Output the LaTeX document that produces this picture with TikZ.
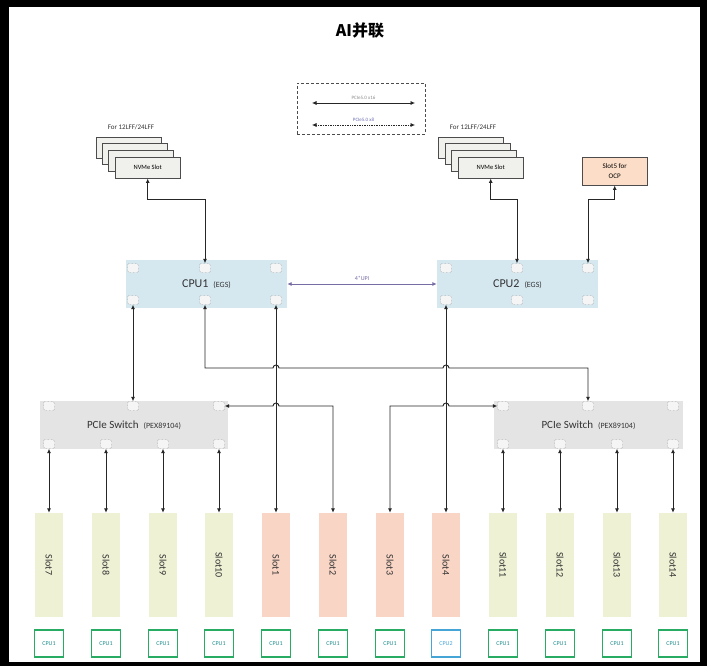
\documentclass[tikz,border=0pt]{standalone}
\usepackage{fontspec}
\usepackage{graphicx}
\setmainfont{Carlito}
\newfontfamily\cjkfont{Noto Sans CJK SC}
\usetikzlibrary{arrows.meta,positioning}
\definecolor{cpublue}{RGB}{213,232,240}
\definecolor{swgray}{RGB}{228,228,228}
\definecolor{slotgreen}{RGB}{238,241,212}
\definecolor{slotpeach}{RGB}{249,213,197}
\definecolor{ocppeach}{RGB}{251,221,200}
\definecolor{cardgray}{RGB}{240,240,236}
\definecolor{tagGreen}{RGB}{40,172,100}
\definecolor{tagBlue}{RGB}{70,165,215}
\definecolor{tagText}{RGB}{30,140,140}
\definecolor{upipurple}{RGB}{120,108,165}
\definecolor{legendBlue}{RGB}{110,110,180}

\begin{document}
\begin{tikzpicture}[x=1pt,y=-1pt,font=\fontsize{7}{8}\selectfont,
  port/.style={draw=black!60,densely dotted,rounded corners=1.5pt,fill=black!4,minimum width=11pt,minimum height=9pt,inner sep=0pt},
  card/.style={draw=black!70,fill=cardgray,minimum width=65pt,minimum height=21pt,anchor=north west,inner sep=0pt,font=\fontsize{6.5}{7}\selectfont},
  chip/.style={minimum height=48pt,inner sep=0pt,text=black!80},
  slotbox/.style={minimum width=28pt,minimum height=104pt,inner sep=0pt,font=\fontsize{10}{11}\selectfont,text=black!80},
  tag/.style={draw=tagGreen,line width=1.3pt,minimum width=29pt,minimum height=27pt,inner sep=0pt,font=\fontsize{6}{7}\selectfont,text=tagText},
  link/.style={{Latex[length=4.5pt,width=4pt]}-{Latex[length=4.5pt,width=4pt]},black!85,line width=0.9pt}]
\fill[black] (0,0) rectangle (707,666);
\fill[white] (9,7) rectangle (700,662);
\useasboundingbox (0,0) rectangle (707,666);

\node[font=\cjkfont\bfseries\fontsize{16}{18}\selectfont] (title) at (360,30) {AI并联};

% legend
\node[draw=black!70,densely dashed,minimum width=128pt,minimum height=51pt] (legend) at (361,108.5) {};
\coordinate (la1) at (312,103);
\coordinate (la2) at (415,103);
\coordinate (lb1) at (312,125);
\coordinate (lb2) at (415,125);
\draw[link,line width=0.7pt] (la1) -- node[above=0pt,font=\fontsize{5}{6}\selectfont,text=black!45]{PCIe5.0 x16} (la2);
\draw[link,line width=0.7pt,densely dotted] (lb1) -- node[above=0pt,font=\fontsize{5}{6}\selectfont,text=legendBlue]{PCIe5.0 x8} (lb2);

% storage
\node[font=\fontsize{7}{8}\selectfont,text=black!80] (forL) at (131,127) {For 12LFF/24LFF};
\node[card] (nvL1) at (96,137) {};
\node[card] (nvL2) at (102,143) {};
\node[card] (nvL3) at (108,150) {};
\node[card] (nvL4) at (115,157) {NVMe Slot};
\node[font=\fontsize{7}{8}\selectfont,text=black!80] (forR) at (473,127) {For 12LFF/24LFF};
\node[card] (nvR1) at (438,137) {};
\node[card] (nvR2) at (445,143) {};
\node[card] (nvR3) at (451,150) {};
\node[card] (nvR4) at (458,157) {NVMe Slot};
\node[card,fill=ocppeach,minimum height=28pt,align=center,font=\fontsize{7}{10}\selectfont] (ocp) at (582,157) {Slot5 for\\OCP};

% cpus and switches
\node[chip,fill=cpublue,minimum width=161pt,font=\fontsize{12}{14}\selectfont] (cpu1) at (206.5,284) {CPU1\hspace{5pt}{\fontsize{8}{9}\selectfont(EGS)}};
\node[chip,fill=cpublue,minimum width=161pt,font=\fontsize{12}{14}\selectfont] (cpu2) at (517.5,284) {CPU2\hspace{5pt}{\fontsize{8}{9}\selectfont(EGS)}};
\node[chip,fill=swgray,minimum width=188pt,font=\fontsize{11}{13}\selectfont] (sw1) at (134,425) {PCIe Switch\hspace{5pt}{\fontsize{8}{9}\selectfont(PEX89104)}};
\node[chip,fill=swgray,minimum width=189pt,font=\fontsize{11}{13}\selectfont] (sw2) at (588.5,425) {PCIe Switch\hspace{5pt}{\fontsize{8}{9}\selectfont(PEX89104)}};
\foreach \x/\n in {133/1,205/2,276/3} {
  \node[port] (c1t\n) at (\x,268) {};
  \node[port] (c1b\n) at (\x,300) {};
}
\foreach \x/\n in {446/1,517/2,588/3} {
  \node[port] (c2t\n) at (\x,268) {};
  \node[port] (c2b\n) at (\x,300) {};
}
\foreach \x/\n in {49/1,133/2,219/3} \node[port] (sw1t\n) at (\x,406) {};
\foreach \x/\n in {49/1,106/2,163/3,219/4} \node[port] (sw1b\n) at (\x,444) {};
\foreach \x/\n in {503/1,588/2,673/3} \node[port] (sw2t\n) at (\x,406) {};
\foreach \x/\n in {503/1,560/2,617/3,673/4} \node[port] (sw2b\n) at (\x,444) {};

% slots
\node[slotbox,fill=slotgreen] (s7) at (49,565) {\rotatebox{-90}{Slot7}};
\node[slotbox,fill=slotgreen] (s8) at (106,565) {\rotatebox{-90}{Slot8}};
\node[slotbox,fill=slotgreen] (s9) at (163,565) {\rotatebox{-90}{Slot9}};
\node[slotbox,fill=slotgreen] (s10) at (219,565) {\rotatebox{-90}{Slot10}};
\node[slotbox,fill=slotpeach] (s1) at (276,565) {\rotatebox{-90}{Slot1}};
\node[slotbox,fill=slotpeach] (s2) at (333,565) {\rotatebox{-90}{Slot2}};
\node[slotbox,fill=slotpeach] (s3) at (390,565) {\rotatebox{-90}{Slot3}};
\node[slotbox,fill=slotpeach] (s4) at (446,565) {\rotatebox{-90}{Slot4}};
\node[slotbox,fill=slotgreen] (s11) at (503,565) {\rotatebox{-90}{Slot11}};
\node[slotbox,fill=slotgreen] (s12) at (560,565) {\rotatebox{-90}{Slot12}};
\node[slotbox,fill=slotgreen] (s13) at (617,565) {\rotatebox{-90}{Slot13}};
\node[slotbox,fill=slotgreen] (s14) at (673,565) {\rotatebox{-90}{Slot14}};
\foreach \s in {7,8,9,10,1,2,3,11,12,13,14} \node[tag,below=12pt of s\s] (t\s) {CPU1};
\node[tag,draw=tagBlue,text=tagBlue,below=12pt of s4] (t4) {CPU2};

% links
\draw[link] (nvL4.south) -- ++(0,21) -| (c1t2.north);
\draw[link] (nvR4.south) -- ++(0,21) -| (c2t2.north);
\draw[link] (ocp.south) -- ++(0,14) -| (c2t3.north);
\draw[link,upipurple] (cpu1.east) -- node[above=0pt,font=\fontsize{6}{7}\selectfont]{4*UPI} (cpu2.west);
\draw[link] (c1b1.south) -- (sw1t2.north);
\draw[link] (c1b3.south) -- (s1.north);
\draw[link] (c2b1.south) -- (s4.north);
\draw[link] (c1b2.south) -- (205,368) -- (273,368) arc[start angle=180,end angle=0,radius=3pt] -- (443,368) arc[start angle=180,end angle=0,radius=3pt] -- (588,368) -- (sw2t2.north);
\draw[link] (sw1t3.east) -- (273,406) arc[start angle=180,end angle=0,radius=3pt] -- (333,406) -- (s2.north);
\draw[link] (s3.north) -- (390,406) -- (443,406) arc[start angle=180,end angle=0,radius=3pt] -- (sw2t1.west);
\foreach \p/\s in {1/7,2/8,3/9,4/10} \draw[link] (sw1b\p.south) -- (s\s.north);
\foreach \p/\s in {1/11,2/12,3/13,4/14} \draw[link] (sw2b\p.south) -- (s\s.north);
\end{tikzpicture}
\end{document}
